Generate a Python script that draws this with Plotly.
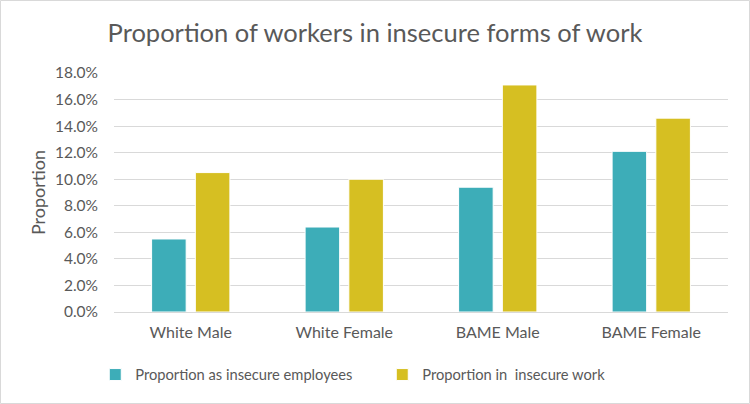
import plotly.graph_objects as go

categories = ["White Male", "White Female", "BAME Male", "BAME Female"]
insecure_employees = [0.055, 0.064, 0.094, 0.121]
insecure_work = [0.105, 0.100, 0.171, 0.146]

teal = "#3DADB8"
gold = "#D6BF22"
grey = "#595959"
font = "Lato"

fig = go.Figure()
fig.add_trace(go.Bar(x=categories, y=insecure_employees, name="Proportion as insecure employees",
                     marker=dict(color=teal, line=dict(color="white", width=1))))
fig.add_trace(go.Bar(x=categories, y=insecure_work, name="Proportion in  insecure work",
                     marker=dict(color=gold, line=dict(color="white", width=1))))

l, r, t, b = 114, 22, 73, 92
pw, ph = 750 - l - r, 404 - t - b

fig.update_layout(
    width=750, height=404,
    margin=dict(l=l, r=r, t=t, b=b, autoexpand=False),
    paper_bgcolor="white", plot_bgcolor="white",
    font=dict(family=font, color=grey, size=15),
    title=dict(text="Proportion of workers in insecure forms of work", x=0.5, xref="container",
               xanchor="center", y=1 - 33 / 404, yref="container", yanchor="middle",
               font=dict(size=25.5, color=grey, family=font)),
    barmode="group", bargap=0.43, bargroupgap=0.21,
    legend=dict(orientation="h", xref="container", yref="container", x=0.127,
                y=1 - 375 / 404, yanchor="middle", xanchor="left",
                font=dict(size=14.7, color=grey), entrywidth=242, itemwidth=30),
    showlegend=True,
    shapes=[dict(type="rect", xref="paper", yref="paper",
                 x0=(-l + 0.5) / pw, x1=1 + (r - 0.5) / pw,
                 y0=(-b + 0.5) / ph, y1=1 + (t - 0.5) / ph,
                 line=dict(color="#D9D9D9", width=1), layer="below")],
)
fig.update_yaxes(range=[0, 0.18], dtick=0.02, tickformat=".1%", showgrid=True,
                 gridcolor="#D9D9D9", gridwidth=1, zeroline=False, showline=False,
                 ticks="", tickfont=dict(size=15.5, color=grey), ticklabelstandoff=15,
                 title=dict(text="Proportion", font=dict(size=18, color=grey), standoff=4))
fig.update_xaxes(showline=True, linecolor="#D9D9D9", linewidth=1, ticks="",
                 tickfont=dict(size=16, color=grey), ticklabelstandoff=6)

fig.write_html("out.html", config={"displayModeBar": False},
               post_script="document.body.style.margin='0';")
